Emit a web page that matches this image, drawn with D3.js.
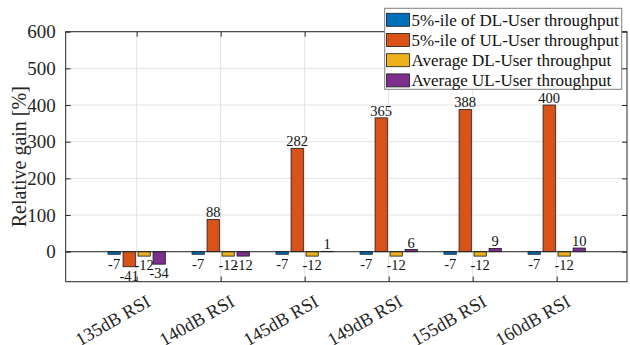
<!DOCTYPE html>
<html><head><meta charset="utf-8">
<script src="https://cdn.jsdelivr.net/npm/d3@7"></script>
<style>
html,body{margin:0;padding:0;background:#fff;}
svg{display:block;}
text{font-family:"Liberation Serif","Times New Roman",Tinos,"DejaVu Serif",serif !important;}
</style></head>
<body><svg id="c" width="630" height="345"></svg>
<script>
const categories = ["135dB RSI","140dB RSI","145dB RSI","149dB RSI","155dB RSI","160dB RSI"];
const seriesNames = ["5%-ile of DL-User throughput","5%-ile of UL-User throughput","Average DL-User throughput","Average UL-User throughput"];
const dl5 = [-7,-7,-7,-7,-7,-7];
const ul5 = [-41,88,282,365,388,400];
const dlAvg = [-12,-12,-12,-12,-12,-12];
const ulAvg = [-34,-12,1,6,9,10];
const yTicks = [0,100,200,300,400,500,600];
const colors = ["#0072BD","#D95319","#EDB120","#7E2F8E"];
const series = [dl5, ul5, dlAvg, ulAvg];

const svg = d3.select("#c");
const L = 65.7, R = 627, T = 31.7, B = 281.7;
const x = d3.scaleLinear().domain([1-0.845, 6+0.837]).range([L, R]);
const y = d3.scaleLinear().domain([-81.8, 600]).range([B, T]);
const axisCol = "#262626";
const groupOffsets = [-0.268, -0.089, 0.089, 0.268];
const barW = 0.146;

// grid
const g = svg.append("g");
g.selectAll(".hg").data(yTicks).enter().append("line")
  .attr("x1", L).attr("x2", R).attr("y1", d=>y(d)).attr("y2", d=>y(d))
  .attr("stroke", "#e3e3e3").attr("stroke-width", 1);
g.selectAll(".vg").data(categories).enter().append("line")
  .attr("x1", (d,i)=>x(i+1)).attr("x2", (d,i)=>x(i+1)).attr("y1", T).attr("y2", B)
  .attr("stroke", "#e3e3e3").attr("stroke-width", 1);

// bars
series.forEach((vals, s) => {
  svg.append("g").selectAll("rect").data(vals).enter().append("rect")
    .attr("x", (d,i)=>x(i+1+groupOffsets[s]-barW/2))
    .attr("width", x(barW)-x(0))
    .attr("y", d=>y(Math.max(d,0)))
    .attr("height", d=>Math.abs(y(d)-y(0)))
    .attr("fill", colors[s]).attr("stroke", "#1a1a1a").attr("stroke-width", 0.8);
});
// zero line
svg.append("line").attr("x1", L).attr("x2", R).attr("y1", y(0)).attr("y2", y(0))
  .attr("stroke", axisCol).attr("stroke-width", 1);

// value labels
series.forEach((vals, s) => {
  svg.append("g").selectAll("text").data(vals).enter().append("text")
    .attr("x", (d,i)=>x(i+1+groupOffsets[s]))
    .attr("y", d=> d>=0 ? y(d)-2 : y(d)+3)
    .attr("dy", d=> d>=0 ? "0" : "0.78em")
    .attr("text-anchor", "middle")
    .attr("font-size", 14.5).attr("fill", "#111")
    .text(d=>d);
});

// axes box
svg.append("rect").attr("x", L).attr("y", T).attr("width", R-L).attr("height", B-T)
  .attr("fill", "none").attr("stroke", axisCol).attr("stroke-width", 1);

// y ticks
const ya = d3.axisLeft(y).tickValues(yTicks).tickSize(-5).tickPadding(10).tickFormat(d3.format("d"));
const yg = svg.append("g").attr("transform", `translate(${L},0)`).call(ya);
yg.select(".domain").remove();
yg.selectAll("line").attr("stroke", axisCol);
yg.selectAll("text").attr("font-size", 19).attr("fill", axisCol);
const ya2 = d3.axisRight(y).tickValues(yTicks).tickSize(-5).tickFormat("");
const yg2 = svg.append("g").attr("transform", `translate(${R},0)`).call(ya2);
yg2.select(".domain").remove();
yg2.selectAll("line").attr("stroke", axisCol);

// x ticks
const xa = d3.axisBottom(x).tickValues(d3.range(1,7)).tickSize(-5).tickFormat("");
const xg = svg.append("g").attr("transform", `translate(0,${B})`).call(xa);
xg.select(".domain").remove();
xg.selectAll("line").attr("stroke", axisCol);
const xa2 = d3.axisTop(x).tickValues(d3.range(1,7)).tickSize(-5).tickFormat("");
const xg2 = svg.append("g").attr("transform", `translate(0,${T})`).call(xa2);
xg2.select(".domain").remove();
xg2.selectAll("line").attr("stroke", axisCol);

// x labels rotated
svg.append("g").selectAll("text").data(categories).enter().append("text")
  .attr("transform", (d,i)=>`translate(${x(i+1)+8.5},${B+12}) rotate(-30)`)
  .attr("text-anchor", "end").attr("dy", "0.71em")
  .attr("font-size", 18.5).attr("fill", axisCol)
  .text(d=>d);

// y label
svg.append("text").attr("transform", `translate(26,${(T+B)/2}) rotate(-90)`)
  .attr("text-anchor", "middle").attr("font-size", 20).attr("fill", axisCol)
  .text("Relative gain [%]");

// legend
const lg = svg.append("g");
lg.append("rect").attr("x", 384.7).attr("y", 8.3).attr("width", 237).attr("height", 81)
  .attr("fill", "#fff").attr("stroke", "#808080").attr("stroke-width", 1);
seriesNames.forEach((n, i) => {
  const cy = 19.8 + i*20.2;
  lg.append("rect").attr("x", 386.5).attr("y", cy-6.5).attr("width", 23).attr("height", 13)
    .attr("fill", colors[i]).attr("stroke", "#1a1a1a").attr("stroke-width", 0.8);
  lg.append("text").attr("x", 411.5).attr("y", cy).attr("dy", "0.35em")
    .attr("font-size", 17).attr("fill", "#111").text(n);
});
</script></body></html>
